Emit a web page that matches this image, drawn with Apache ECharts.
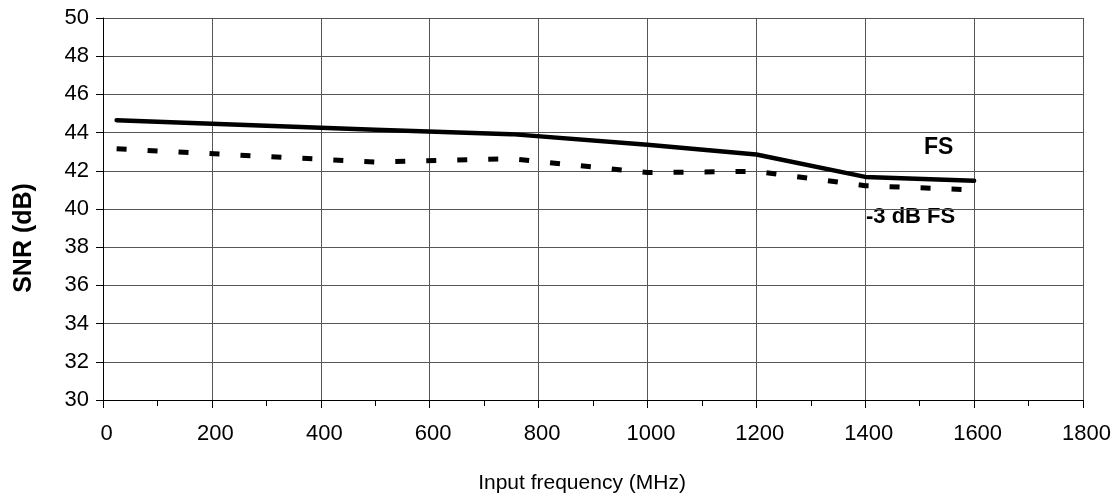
<!DOCTYPE html>
<html>
<head>
<meta charset="utf-8">
<script src="https://cdn.jsdelivr.net/npm/echarts@6/dist/echarts.min.js"></script>
<style>
html,body{margin:0;padding:0;background:#fff;}
#chart{width:1120px;height:501px;}
</style>
</head>
<body>
<div id="chart"></div>
<script>
// Data
const fsFreq = [25, 500, 750, 1000, 1200, 1400, 1600];
const fsSnr  = [44.65, 44.15, 43.92, 43.37, 42.85, 41.68, 41.48];
const m3Freq = [25, 500, 750, 1000, 1200, 1400, 1600];
const m3Snr  = [43.15, 42.46, 42.63, 41.91, 41.97, 41.22, 41.0];
const xTicks = [0, 200, 400, 600, 800, 1000, 1200, 1400, 1600, 1800];
const yTicks = [30, 32, 34, 36, 38, 40, 42, 44, 46, 48, 50];
const seriesNames = ['FS', '-3 dB FS'];
const xTitle = 'Input frequency (MHz)';
const yTitle = 'SNR (dB)';

const FONT = "'Liberation Sans', Arial, sans-serif";

const chart = echarts.init(document.getElementById('chart'), null, {renderer: 'canvas'});
const pairs = (xs, ys) => xs.map((x, i) => [x, ys[i]]);

chart.setOption({
  animation: false,
  backgroundColor: '#fff',
  grid: {left: 103, right: 37, top: 18, bottom: 101, containLabel: false},
  xAxis: {
    type: 'value',
    min: xTicks[0], max: xTicks[xTicks.length - 1], interval: xTicks[1] - xTicks[0],
    axisLine: {show: true, lineStyle: {color: '#000', width: 1}},
    axisTick: {show: true, length: 8, lineStyle: {color: '#000'}},
    minorTick: {show: true, splitNumber: 2, length: 6, lineStyle: {color: '#000'}},
    splitLine: {show: true, lineStyle: {color: '#555', width: 1}},
    axisLabel: {color: '#000', fontFamily: FONT, fontSize: 22, margin: 23, padding: [0, 0, 0, 7],
      formatter: v => String(v)}
  },
  yAxis: {
    type: 'value',
    min: yTicks[0], max: yTicks[yTicks.length - 1], interval: yTicks[1] - yTicks[0],
    axisLine: {show: true, lineStyle: {color: '#000', width: 1}},
    axisTick: {show: true, length: 7, lineStyle: {color: '#000'}},
    splitLine: {show: true, lineStyle: {color: '#555', width: 1}},
    axisLabel: {color: '#000', fontFamily: FONT, fontSize: 22, margin: 14,
      formatter: v => String(v)}
  },
  series: [
    {
      name: seriesNames[0], type: 'line', data: pairs(fsFreq, fsSnr),
      showSymbol: false, symbol: 'none', smooth: false,
      lineStyle: {color: '#000', width: 4.5, cap: 'round', join: 'round'}
    },
    {
      name: seriesNames[1], type: 'line', data: pairs(m3Freq, m3Snr),
      showSymbol: false, symbol: 'none', smooth: false,
      lineStyle: {color: '#000', width: 5, type: [10, 21], cap: 'butt'}
    }
  ],
  graphic: [
    {type: 'text', x: 924, y: 148, style: {text: seriesNames[0], font: 'bold 23px ' + FONT, fill: '#000', align: 'left', verticalAlign: 'middle'}},
    {type: 'text', x: 866, y: 217, style: {text: seriesNames[1], font: 'bold 22px ' + FONT, fill: '#000', align: 'left', verticalAlign: 'middle'}},
    {type: 'text', x: 582, y: 483, style: {text: xTitle, font: '21px ' + FONT, fill: '#000', align: 'center', verticalAlign: 'middle'}},
    {type: 'text', x: 24, y: 238, rotation: Math.PI / 2, style: {text: yTitle, font: 'bold 25px ' + FONT, fill: '#000', align: 'center', verticalAlign: 'middle'}}
  ]
});
</script>
</body>
</html>
